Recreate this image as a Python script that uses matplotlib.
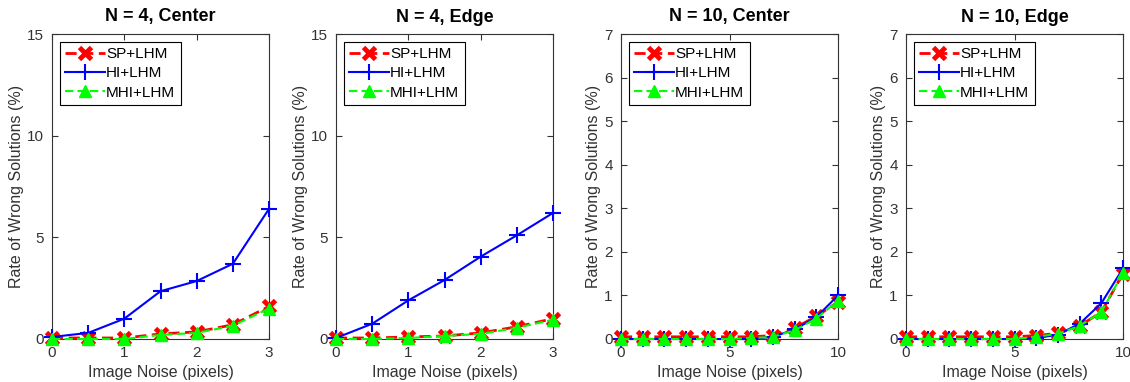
import matplotlib
matplotlib.use("Agg")
import matplotlib.pyplot as plt

plt.rcParams["font.family"] = ["Liberation Sans", "DejaVu Sans"]

TITLES = ["N = 4, Center", "N = 4, Edge", "N = 10, Center", "N = 10, Edge"]
LABELS = ["SP+LHM", "HI+LHM", "MHI+LHM"]

noise_n4  = [0, 0.5, 1, 1.5, 2, 2.5, 3]
noise_n10 = [0, 1, 2, 3, 4, 5, 6, 7, 8, 9, 10]

# N = 4, Center
sp_n4c  = [0.05, 0.05, 0.05, 0.25, 0.35, 0.7, 1.6]
hi_n4c  = [0.1, 0.3, 1.0, 2.35, 2.85, 3.7, 6.4]
mhi_n4c = [0.0, 0.0, 0.0, 0.2, 0.3, 0.65, 1.5]

# N = 4, Edge
sp_n4e  = [0.05, 0.05, 0.1, 0.15, 0.3, 0.6, 1.0]
hi_n4e  = [0.05, 0.75, 1.9, 2.9, 4.05, 5.1, 6.2]
mhi_n4e = [0.0, 0.0, 0.05, 0.15, 0.25, 0.55, 0.95]

# N = 10, Center
sp_n10c  = [0.05, 0.05, 0.05, 0.05, 0.05, 0.05, 0.05, 0.08, 0.25, 0.52, 0.85]
hi_n10c  = [0.0, 0.0, 0.0, 0.0, 0.0, 0.0, 0.0, 0.05, 0.22, 0.5, 1.0]
mhi_n10c = [0.0, 0.0, 0.0, 0.0, 0.0, 0.0, 0.02, 0.05, 0.2, 0.47, 0.88]

# N = 10, Edge
sp_n10e  = [0.05, 0.05, 0.05, 0.05, 0.05, 0.05, 0.08, 0.13, 0.3, 0.62, 1.5]
hi_n10e  = [0.0, 0.0, 0.0, 0.0, 0.0, 0.0, 0.02, 0.1, 0.35, 0.82, 1.62]
mhi_n10e = [0.0, 0.0, 0.0, 0.0, 0.0, 0.0, 0.05, 0.12, 0.3, 0.62, 1.52]

panels = [
    (noise_n4, sp_n4c, hi_n4c, mhi_n4c, 15, [0, 5, 10, 15], [0, 1, 2, 3]),
    (noise_n4, sp_n4e, hi_n4e, mhi_n4e, 15, [0, 5, 10, 15], [0, 1, 2, 3]),
    (noise_n10, sp_n10c, hi_n10c, mhi_n10c, 7, range(8), [0, 5, 10]),
    (noise_n10, sp_n10e, hi_n10e, mhi_n10e, 7, range(8), [0, 5, 10]),
]

W, H = 1130, 382
fig = plt.figure(figsize=(W / 100, H / 100), dpi=100)
lefts = [52, 336, 621, 906]
ax_w, top, bottom = 217, 34, 339
TXT = "#333333"

for i, (x, sp, hi, mhi, ymax, yticks, xticks) in enumerate(panels):
    ax = fig.add_axes([lefts[i] / W, 1 - bottom / H, ax_w / W, (bottom - top) / H])
    ax.plot(x, sp, color="red", ls="--", lw=2, marker="x", ms=9, mew=3.5,
            label=LABELS[0], dashes=(4, 2), clip_on=False, zorder=3)
    ax.plot(x, hi, color="blue", ls="-", lw=1.5, marker="+", ms=11, mew=1.5,
            label=LABELS[1], clip_on=False, zorder=4)
    ax.plot(x, mhi, color="#00ff00", ls="--", lw=1.5, marker="^", ms=9,
            label=LABELS[2], dashes=(4, 2), clip_on=False, zorder=5)
    ax.set_xlim(x[0], x[-1])
    ax.set_ylim(0, ymax)
    ax.set_xticks(xticks)
    ax.set_yticks(list(yticks))
    ax.tick_params(direction="in", top=True, right=True, labelsize=11,
                   colors=TXT, length=4)
    ax.tick_params(axis="x", pad=5)
    ax.tick_params(axis="y", pad=6)
    for s in ax.spines.values():
        s.set_color(TXT)
    ax.set_title(TITLES[i], fontsize=13, fontweight="bold", pad=9)
    ax.set_xlabel("Image Noise (pixels)", fontsize=11.5, color=TXT, labelpad=4)
    ax.set_ylabel("Rate of Wrong Solutions (%)", fontsize=11.5, color=TXT, labelpad=2)
    leg = ax.legend(loc="upper left", fontsize=11, fancybox=False, framealpha=1,
                    edgecolor="black", handlelength=2.6, handletextpad=0.1,
                    borderpad=0.35, labelspacing=0.35, borderaxespad=0.5)
    leg.get_frame().set_linewidth(0.8)
    leg.set_zorder(10)

fig.savefig("out.png", dpi=100)
